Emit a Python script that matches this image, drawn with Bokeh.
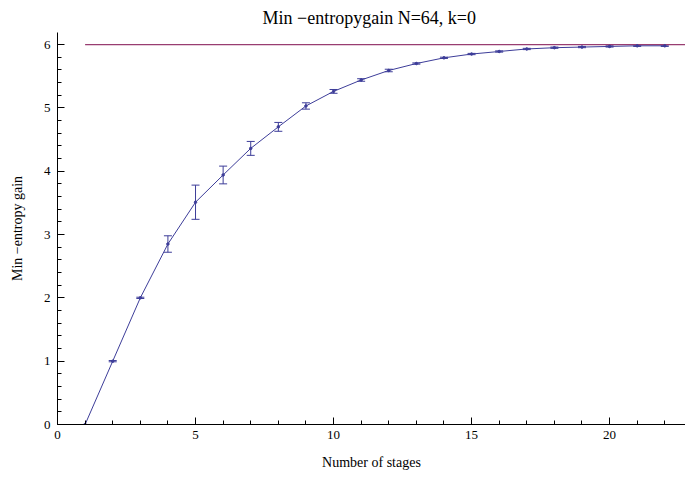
from bokeh.plotting import figure
from bokeh.models import ColumnDataSource, Whisker, TeeHead, Range1d, SingleIntervalTicker
from bokeh.embed import file_html
from bokeh.resources import INLINE

stages = [1, 2, 3, 4, 5, 6, 7, 8, 9, 10, 11, 12, 13, 14, 15, 16, 17, 18, 19, 20, 21, 22]
gain = [0.0, 1.0, 2.0, 2.85, 3.51, 3.94, 4.36, 4.70, 5.03, 5.26, 5.44, 5.59,
        5.70, 5.79, 5.85, 5.89, 5.93, 5.95, 5.96, 5.97, 5.98, 5.98]
err = [0.0, 0.01, 0.01, 0.13, 0.27, 0.14, 0.11, 0.07, 0.05, 0.03, 0.02, 0.02,
       0.01, 0.01, 0.01, 0.01, 0.01, 0.01, 0.01, 0.01, 0.01, 0.01]
bound_x = [1, 23]
bound_y = [6, 6]

FONT = "Liberation Serif"
BLUE = "#3d3d99"
PURPLE = "#993d71"

src = ColumnDataSource(dict(
    x=stages, y=gain,
    lo=[g - e for g, e in zip(gain, err)],
    hi=[g + e for g, e in zip(gain, err)],
))

p = figure(width=685, height=479, output_backend="svg", toolbar_location=None,
           x_range=Range1d(0, 22.75), y_range=Range1d(0, 6.19),
           min_border_left=57, min_border_right=0, min_border_top=32, min_border_bottom=55,
           title="Min \u2212entropygain  N=64, k=0")
p.title.text_font = FONT
p.title.text_font_size = "18px"
p.title.text_font_style = "normal"
p.title.align = "center"
p.title.text_color = "black"

p.outline_line_color = None
p.xgrid.visible = False
p.ygrid.visible = False

p.line(bound_x, bound_y, color=PURPLE, line_width=1.2)
p.line("x", "y", source=src, color=BLUE, line_width=1)
p.scatter("x", "y", source=src, size=2.5, color=BLUE)
w = Whisker(base="x", lower="lo", upper="hi", source=src,
            line_color=BLUE, line_width=1,
            upper_head=TeeHead(size=8, line_color=BLUE, line_width=1),
            lower_head=TeeHead(size=8, line_color=BLUE, line_width=1))
p.add_layout(w)

p.xaxis.ticker = SingleIntervalTicker(interval=5, num_minor_ticks=5)
p.yaxis.ticker = SingleIntervalTicker(interval=1, num_minor_ticks=5)
for ax in (p.xaxis, p.yaxis):
    ax.major_tick_in = 7
    ax.major_tick_out = 0
    ax.minor_tick_in = 4
    ax.minor_tick_out = 0
    ax.axis_line_color = "black"
    ax.major_tick_line_color = "black"
    ax.minor_tick_line_color = "black"
    ax.major_label_text_font = FONT
    ax.major_label_text_font_size = "13px"
    ax.major_label_text_color = "black"
    ax.axis_label_text_font = FONT
    ax.axis_label_text_font_size = "14px"
    ax.axis_label_text_font_style = "normal"
    ax.axis_label_text_color = "black"
p.xaxis.axis_label = "Number of stages"
p.yaxis.axis_label = "Min \u2212entropy gain"
p.xaxis.major_label_standoff = 6
p.yaxis.major_label_standoff = 7
p.xaxis.axis_label_standoff = 13
p.yaxis.axis_label_standoff = 16

open("out.html", "w").write(file_html(p, INLINE))
